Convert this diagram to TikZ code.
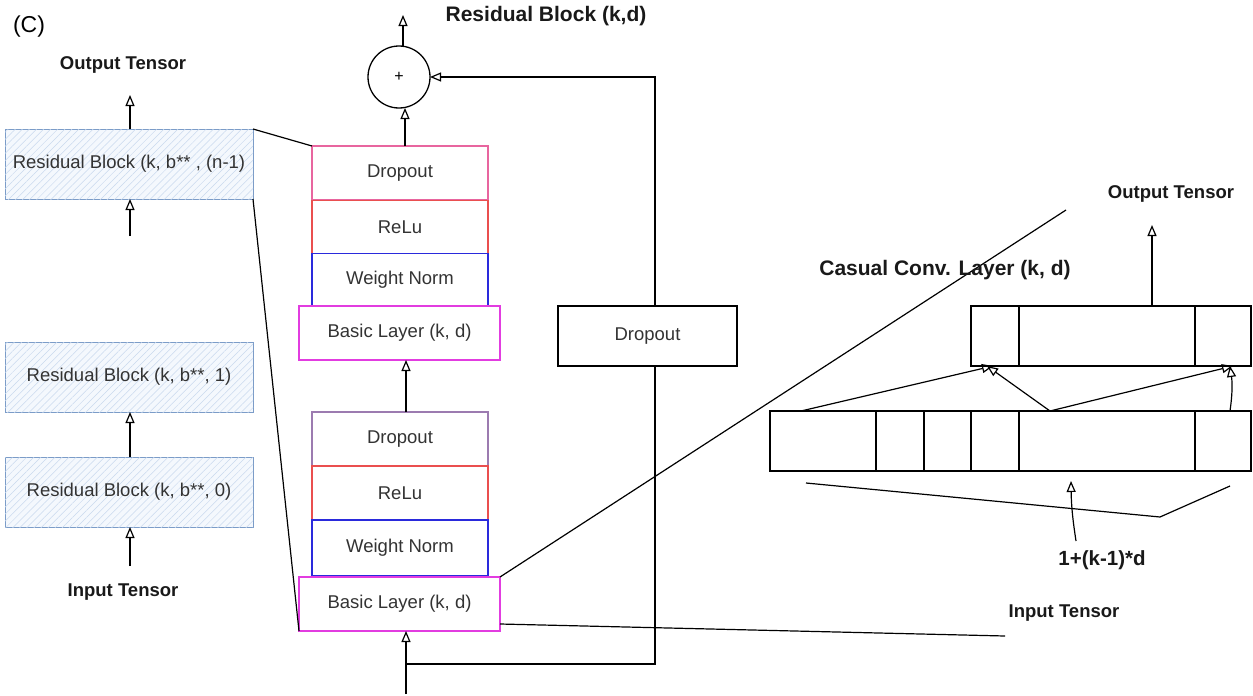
\documentclass[tikz,border=0pt]{standalone}
\usepackage{fontspec}
\setmainfont{Liberation Sans}
\usetikzlibrary{arrows.meta,patterns.meta,calc}
\definecolor{rbborder}{HTML}{7B9CC8}
\definecolor{rbhatch}{HTML}{C9D9EE}
\definecolor{rbfill}{HTML}{F4F8FD}
\definecolor{txt}{HTML}{333333}
\definecolor{cpink}{HTML}{E8659F}
\definecolor{cred}{HTML}{EA4F4F}
\definecolor{cblue}{HTML}{2A2ADC}
\definecolor{cmag}{HTML}{E23CE0}
\definecolor{cpurple}{HTML}{9C7BB0}
\begin{document}
\begin{tikzpicture}[x=1pt,y=-1pt,
  every node/.style={inner sep=0pt, outer sep=0pt},
  lbl/.style={font=\fontsize{18.5}{22}\selectfont\bfseries, text=black!90},
  title/.style={font=\fontsize{21}{24}\selectfont\bfseries, text=black!90},
  rb/.style={draw=rbborder, line width=1pt, fill=rbfill,
    postaction={pattern={Lines[angle=45,distance=5pt,line width=0.5pt]}, pattern color=rbhatch},
    minimum width=248, minimum height=70, font=\fontsize{18.5}{22}\selectfont, text=txt},
  layer/.style={draw, line width=1.2pt, fill=white, minimum width=176, minimum height=54,
    font=\fontsize{18.5}{22}\selectfont, text=txt},
  basic/.style={layer, draw=cmag, minimum width=201},
  arr/.style={line width=1.2pt, -{Triangle[open,length=11pt,width=9pt,line width=1.2pt]}},
  ln/.style={line width=1.2pt},
  conv/.style={draw, line width=1.2pt, fill=white, minimum height=60}
]
\useasboundingbox (0,0) rectangle (1253,696);

% ---- left column ----
\node[font=\fontsize{23}{26}\selectfont, text=black] (c) at (29,27) {(C)};
\node[lbl] (outL) at (123,65) {Output Tensor};
\node[rb] (rbn) at (129,164) {Residual Block (k, b** , (n-1)};
\node[rb] (rb1) at (129,377) {Residual Block (k, b**, 1)};
\node[rb] (rb0) at (129,492) {Residual Block (k, b**, 0)};
\node[lbl] (inL) at (123,592) {Input Tensor};
\coordinate (outLa) at (130,95);
\coordinate (rbnin) at (130,236);
\coordinate (rb0in) at (130,566);
\draw[arr] (rbn.north -| outLa) -- (outLa);
\draw[arr] (rbnin) -- (rbn.south -| rbnin);
\draw[arr] (rb0.north -| rb0in) -- (rb1.south -| rb0in);
\draw[arr] (rb0in) -- (rb0.south -| rb0in);

% ---- residual block ----
\node[title] (rbt) at (546,16) {Residual Block (k,d)};
\node[draw, circle, line width=1.3pt, minimum size=62, font=\fontsize{16}{18}\selectfont] (plus) at (399,77) {+};
\node[layer, draw=cpink] (d1) at (400,173) {Dropout};
\node[layer, draw=cred, minimum height=53] (r1) at (400,227) {ReLu};
\node[layer, draw=cblue, minimum height=53] (w1) at (400,280) {Weight Norm};
\node[basic] (b1) at (399.5,333) {Basic Layer (k, d)};

\node[layer, draw=cpurple] (d2) at (400,439) {Dropout};
\node[layer, draw=cred] (r2) at (400,493) {ReLu};
\node[layer, draw=cblue, minimum height=56] (w2) at (400,548) {Weight Norm};
\node[basic] (b2) at (399.5,604) {Basic Layer (k, d)};

\node[layer, draw=black, minimum width=179, minimum height=60] (ds) at (647.5,336) {Dropout};

\coordinate (topout) at (403,15);
\coordinate (bin) at (406,694);
\coordinate (jn) at (406,664);
\draw[arr] (d1.north -| 405,0) -- (plus.south -| 405,0);
\draw[arr] (plus.north -| topout) -- (topout);
\draw[arr] (d2.north -| 406,0) -- (b1.south -| 406,0);
\draw[arr] (bin) -- (b2.south -| bin);
\draw[ln] (jn) -| (ds.south -| 655,0);
\draw[arr] (ds.north -| 655,0) |- (plus.east);

% ---- zoom lines ----
\draw[ln] (rbn.north east) -- (d1.north west);
\draw[ln] (rbn.south east) -- (b2.south west);
\coordinate (diagEnd) at (1066,210);
\coordinate (inEnd) at (1005,636);
\draw[ln] (b2.north east) -- (diagEnd);
\draw[ln] ($(b2.south east)+(0,-7)$) -- (inEnd);
\node[lbl] (inR) at (1064,613) {Input Tensor};

% ---- causal conv ----
\node[title] (ccl) at (945,270) {Casual Conv. Layer (k, d)};
\node[lbl] (outR) at (1171,194) {Output Tensor};
\node[conv, minimum width=280] (ct) at (1111,336) {};
\node[conv, minimum width=481] (cb) at (1010.5,441) {};
\foreach \o in {48,224}
  \draw[ln] ($(ct.north west)+(\o,0)$) -- ($(ct.south west)+(\o,0)$);
\foreach \o in {106,154,201,249,425}
  \draw[ln] ($(cb.north west)+(\o,0)$) -- ($(cb.south west)+(\o,0)$);
\coordinate (outRa) at (1152,225);
\draw[arr] ($(ct.north west)+(181,0)$) -- (outRa);
\draw[arr] ($(cb.north west)+(31,0)$) -- ($(ct.south west)+(22,0)$);
\draw[arr] ($(cb.north west)+(280,0)$) -- ($(ct.south west)+(16,0)$);
\draw[arr] ($(cb.north west)+(280,0)$) -- ($(ct.south east)+(-18,0)$);
\draw[arr] ($(cb.north east)+(-21,0)$) to[bend right=8] ($(ct.south east)+(-21,0)$);

% bracket
\coordinate (brA) at (806,483);
\coordinate (brB) at (1160,517);
\coordinate (brC) at (1230,486);
\draw[ln] (brA) -- (brB) -- (brC);
\node[lbl, font=\fontsize{20.5}{24}\selectfont\bfseries] (kd) at (1102,560) {1+(k-1)*d};
\coordinate (kdA) at (1076,541);
\draw[arr] (kdA) to[bend left=4] ($(cb.south west)+(301,10)$);
\end{tikzpicture}
\end{document}
